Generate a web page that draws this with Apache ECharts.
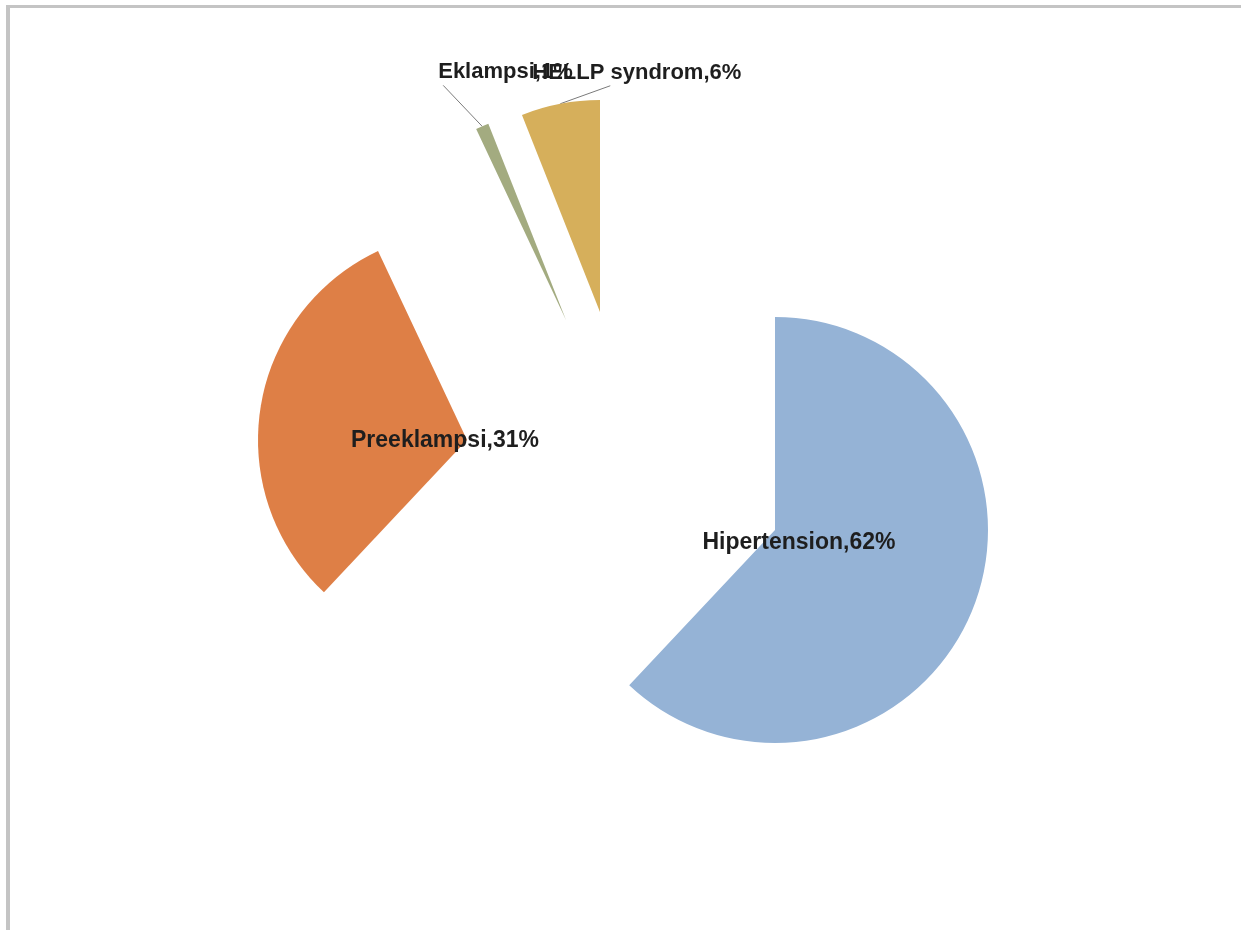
<!DOCTYPE html>
<html>
<head>
<meta charset="utf-8">
<script src="https://cdn.jsdelivr.net/npm/echarts@6/dist/echarts.min.js"></script>
<style>
  html, body { margin: 0; padding: 0; background: #fff; }
  #frame {
    position: absolute; left: 6px; top: 5px; right: 0; bottom: 0;
    border-left: 4px solid #c4c4c4;
    border-top: 3px solid #c4c4c4;
  }
  #chart { position: absolute; left: 0; top: 0; width: 1241px; height: 930px; }
</style>
</head>
<body>
<div id="frame"></div>
<div id="chart"></div>
<script>
// data
var categories = ['Hipertension', 'Preeklampsi', 'Eklampsi', 'HELLP syndrom'];
var values = [62, 31, 1, 6];
var colors = ['#95b3d6', '#de7f46', '#a3ab80', '#d6af5b'];

// each slice is drawn by its own pie so it can be pulled out on its own
var slices = [
  { center: [775, 530], radius: 213, inside: true, size: 23, dx: 24, dy: 13 },
  { center: [467, 440], radius: 209, inside: true, size: 23, dx: -22, dy: 1 },
  { center: [566, 320], radius: 211, inside: false, size: 22, dx: -44, dy: -54, lx: -39, ly: -41 },
  { center: [600, 312], radius: 212, inside: false, size: 22, dx: -28, dy: -31, lx: 50, ly: -18 }
];

var myChart = echarts.init(document.getElementById('chart'));

var series = slices.map(function (s, i) {
  return {
    type: 'pie',
    center: s.center,
    radius: [0, s.radius],
    startAngle: 90,
    clockwise: true,
    avoidLabelOverlap: false,
    silent: true,
    animation: false,
    label: {
      show: true,
      position: s.inside ? 'center' : 'outside',
      formatter: '{b},{d}%',
      fontFamily: 'Liberation Sans',
      fontSize: s.size,
      fontWeight: 'bold',
      color: '#1e1e1e',
      textBorderWidth: 0
    },
    labelLine: {
      show: !s.inside,
      length: 10,
      length2: 0,
      lineStyle: { color: '#7a7a7a', width: 1 }
    },
    labelLayout: function (params) {
      if (params.dataIndex !== i) return {};
      if (s.inside) {
        return { dx: s.dx, dy: s.dy };
      }
      var a = params.labelLinePoints[0];
      var end = [a[0] + s.lx, a[1] + s.ly];
      return {
        x: a[0] + s.dx,
        y: a[1] + s.dy,
        align: 'left',
        verticalAlign: 'middle',
        labelLinePoints: [a, end, end]
      };
    },
    data: categories.map(function (name, j) {
      var on = j === i;
      return {
        name: name,
        value: values[j],
        itemStyle: { color: on ? colors[j] : 'rgba(0,0,0,0)', borderWidth: 0 },
        label: { show: on },
        labelLine: { show: on && !s.inside }
      };
    })
  };
});

myChart.setOption({
  backgroundColor: 'transparent',
  series: series
});

window.addEventListener('resize', function () {
  myChart.resize();
});
</script>
</body>
</html>
